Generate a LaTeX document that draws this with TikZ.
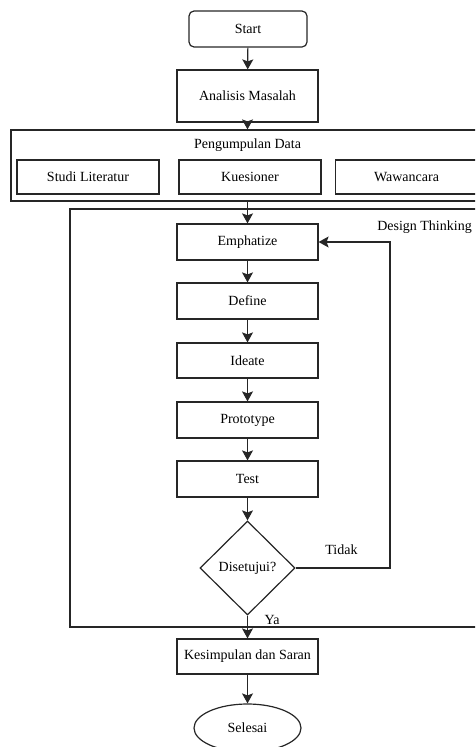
\documentclass[tikz,border=0pt]{standalone}
\usepackage{fontspec}
\setmainfont{Liberation Serif}
\usetikzlibrary{arrows.meta,shapes.geometric}
\definecolor{ln}{HTML}{262626}
\tikzset{
  every node/.style={font=\fontsize{14}{16}\selectfont, text=black},
  box/.style={draw=ln, line width=1.2pt, rectangle, inner sep=0pt, minimum width=141pt, minimum height=36pt},
  roundbox/.style={box, rounded corners=5pt, minimum width=118pt},
  container/.style={draw=ln, line width=1.2pt, rectangle, inner sep=0pt},
  decision/.style={draw=ln, line width=1.2pt, diamond, inner sep=0pt, minimum width=95pt, minimum height=94pt},
  endnode/.style={draw=ln, line width=1.2pt, ellipse, inner sep=0pt, minimum width=107pt, minimum height=48pt},
  arrow/.style={draw=ln, line width=1.2pt, -{Stealth[length=10pt,width=11pt,inset=2pt]}},
  line/.style={draw=ln, line width=1.2pt}
}
\begin{document}
\begin{tikzpicture}[x=1pt,y=-1pt]
\useasboundingbox (0,0) rectangle (475,747);
\clip (0,0) rectangle (475,747);
% containers
\node[container, minimum width=474pt, minimum height=71pt] (pd) at (248,165.5) {};
\node[container, minimum width=415pt, minimum height=418pt] (dt) at (277.5,418) {};
\node (pdlabel) at (247.5,145) {Pengumpulan Data};
\node (dtlabel) at (424.5,227) {Design Thinking};
% nodes
\node[roundbox] (start) at (248,29) {Start};
\node[box, minimum height=52pt] (ana) at (247.5,96) {Analisis Masalah};
\node[box, minimum width=142pt, minimum height=34pt] (studi) at (88,177) {Studi Literatur};
\node[box, minimum width=142pt, minimum height=34pt] (kues) at (250,177) {Kuesioner};
\node[box, minimum width=142pt, minimum height=34pt] (wawa) at (406.5,177) {Wawancara};
\node[box] (emph) at (247.5,242) {Emphatize};
\node[box] (def) at (247.5,301) {Define};
\node[box, minimum height=35pt] (idea) at (247.5,360.5) {Ideate};
\node[box] (proto) at (247.5,420) {Prototype};
\node[box] (test) at (247.5,479) {Test};
\node[decision] (dec) at (247.5,568) {Disetujui?};
\node[box, minimum height=35pt] (kes) at (247.5,656.5) {Kesimpulan dan Saran};
\node[endnode] (sel) at (247.5,728) {Selesai};
\coordinate (loop) at (390,568);
% connectors
\draw[arrow] (start) -- (ana);
\draw[arrow] (ana.south) -- (ana.south |- pd.north);
\draw[arrow] (emph.north |- pd.south) -- (emph.north);
\draw[arrow] (emph) -- (def);
\draw[arrow] (def) -- (idea);
\draw[arrow] (idea) -- (proto);
\draw[arrow] (proto) -- (test);
\draw[arrow] (test) -- (dec);
\draw[arrow] (dec.east) -- (loop) |- (emph.east);
\draw[arrow] (dec.south) -- (kes.north);
\draw[arrow] (kes) -- (sel);
\node (tidak) at (341.5,550) {Tidak};
\node (ya) at (272,620) {Ya};
\end{tikzpicture}
\end{document}
